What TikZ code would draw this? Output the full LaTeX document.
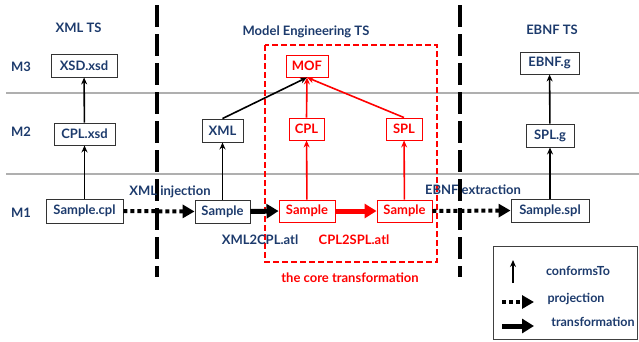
\documentclass[tikz,border=0pt]{standalone}
\usepackage{fontspec}
\setmainfont{Lato}
\usetikzlibrary{arrows.meta}
\definecolor{tblue}{RGB}{28,58,108}
\definecolor{bred}{RGB}{255,0,0}
\definecolor{lgray}{RGB}{175,175,175}
\begin{document}
\begin{tikzpicture}[x=1pt,y=-1pt,
  every node/.style={font=\bfseries\fontsize{13}{15}\selectfont, text=tblue},
  bbox/.style={draw=black!80, line width=0.9pt, inner sep=0pt, minimum height=22},
  rbox/.style={draw=bred, line width=0.9pt, inner sep=0pt, minimum height=22, text=bred},
  lbl/.style={inner sep=0pt},
  leg/.style={lbl, font=\bfseries\fontsize{12.5}{14}\selectfont},
  conf/.style={line width=1.6pt, -{Stealth[length=7pt,width=6pt]}},
  rconf/.style={conf, draw=bred},
  proj/.style={line width=4pt, dash pattern=on 4pt off 3pt, -{Triangle[length=12pt,width=13pt]}},
  trans/.style={line width=5pt, -{Triangle[length=12pt,width=14pt]}},
  sep/.style={line width=3.5pt, dash pattern=on 22pt off 7pt},
]
\useasboundingbox (0,0) rectangle (639,341);
% gray level lines
\draw[lgray, line width=1.3pt] (6,93) -- (639,93);
\draw[lgray, line width=1.3pt] (6,174) -- (639,174);
% separators
\draw[sep] (157,5) -- (157,277);
\draw[sep] (460,5) -- (460,277);
% red core box
\draw[bred, line width=1.3pt, dash pattern=on 6pt off 3pt] (265,45) rectangle (437,262);
% titles
\node[lbl] at (78.5,28) {XML TS};
\node[lbl] at (306,32) {Model Engineering TS};
\node[lbl] at (552,30) {EBNF TS};
\node[lbl] at (21,66.5) {M3};
\node[lbl] at (21,132) {M2};
\node[lbl] at (21,212.5) {M1};
% nodes XML TS
\node[bbox, minimum width=66, minimum height=23] (xsd) at (84,65.5) {XSD.xsd};
\node[bbox, minimum width=61] (cplxsd) at (84.5,134) {CPL.xsd};
\node[bbox, minimum width=77, minimum height=24] (scpl) at (84.5,211) {Sample.cpl};
% middle
\node[bbox, minimum width=41, minimum height=23] (xml) at (222.5,130.5) {XML};
\node[bbox, minimum width=55, minimum height=23] (sxml) at (222.5,211.5) {Sample};
\node[rbox, minimum width=42] (mof) at (307,66) {MOF};
\node[rbox, minimum width=35] (cpl) at (306.5,129) {CPL};
\node[rbox, minimum width=36] (spl) at (404,129) {SPL};
\node[rbox, minimum width=56] (s1) at (307,211) {Sample};
\node[rbox, minimum width=55] (s2) at (404.5,211) {Sample};
% EBNF
\node[bbox, minimum width=59] (ebnf) at (549.5,63) {EBNF.g};
\node[bbox, minimum width=48, minimum height=23] (splg) at (550,135.5) {SPL.g};
\node[bbox, minimum width=78, minimum height=23] (sspl) at (550,210.5) {Sample.spl};
% conformsTo
\draw[conf] (scpl) -- (cplxsd);
\draw[conf] (cplxsd) -- (xsd);
\draw[conf] (sxml) -- (xml);
\draw[conf] (xml.north) -- (mof.south);
\draw[rconf] (cpl.north) -- (mof.south);
\draw[rconf] (spl.north) -- (mof.south);
\draw[rconf] (s1) -- (cpl);
\draw[rconf] (s2) -- (spl);
\draw[conf] (sspl) -- (splg);
\draw[conf] (splg) -- (ebnf);
% projections / transformations
\draw[proj] (scpl.east) -- (sxml.west);
\draw[trans] (sxml.east) -- (s1.west);
\draw[trans, bred] (s1.east) -- (s2.west);
\draw[proj] (s2.east) -- (sspl.west);
% labels
\node[lbl] at (170,192) {XML injection};
\node[lbl] at (473,190) {EBNF extraction};
\node[lbl] at (260,239.5) {XML2CPL.atl};
\node[lbl, text=bred] at (354,239.5) {CPL2SPL.atl};
\node[lbl, text=bred] at (350,278) {the core transformation};
% legend
\draw[black!75, line width=1pt] (493,246.5) rectangle (637.5,339);
\coordinate (c1) at (513,283);
\coordinate (c2) at (513,260);
\draw[conf] (c1) -- (c2);
\coordinate (p1) at (502,302);
\coordinate (p2) at (534,302);
\draw[proj] (p1) -- (p2);
\coordinate (t1) at (502,326);
\coordinate (t2) at (534,326);
\draw[trans] (t1) -- (t2);
\node[leg] at (578,271) {conformsTo};
\node[leg] at (576,299) {projection};
\node[leg] at (593,322) {transformation};
\end{tikzpicture}
\end{document}
